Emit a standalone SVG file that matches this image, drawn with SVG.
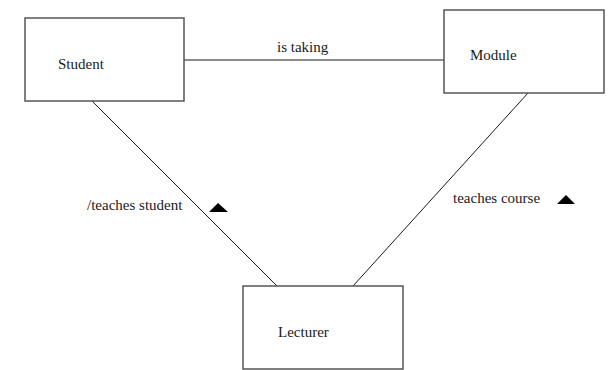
<svg xmlns="http://www.w3.org/2000/svg" width="611" height="370" viewBox="0 0 611 370">
  <style>
    .box { fill: #ffffff; stroke: #555555; stroke-width: 1.5; }
    .link { stroke: #1a1a1a; stroke-width: 1; fill: none; }
    .lbl { font-family: 'Liberation Serif', 'Times New Roman', serif; font-size: 15px; fill: #1a1a1a; }
    .dir { fill: #000000; }
  </style>
  <rect width="611" height="370" fill="#ffffff"/>
  <g id="connectors">
    <line class="link" x1="184" y1="60" x2="444" y2="60"/>
    <line class="link" x1="92" y1="101" x2="277" y2="286"/>
    <line class="link" x1="528" y1="93" x2="353" y2="286"/>
    <text class="lbl" x="277" y="52">is taking</text>
    <text class="lbl" x="87" y="210">/teaches student</text>
    <polygon class="dir" points="209,212 218,203 228,212"/>
    <text class="lbl" x="453" y="203">teaches course</text>
    <polygon class="dir" points="557,204 566,195 575,204"/>
  </g>
  <g id="student">
    <rect class="box" x="25" y="18" width="159" height="83"/>
    <text class="lbl" x="58" y="69">Student</text>
  </g>
  <g id="module">
    <rect class="box" x="444" y="10" width="160" height="83"/>
    <text class="lbl" x="470" y="60">Module</text>
  </g>
  <g id="lecturer">
    <rect class="box" x="243" y="286" width="160" height="83"/>
    <text class="lbl" x="278" y="337">Lecturer</text>
  </g>
</svg>
